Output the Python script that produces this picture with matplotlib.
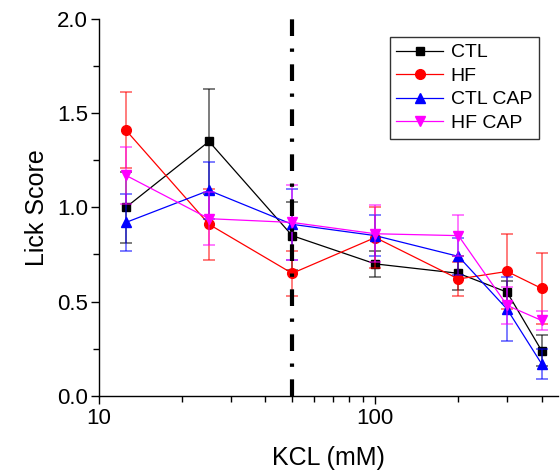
import matplotlib
matplotlib.use('Agg')
import matplotlib.pyplot as plt
from matplotlib.ticker import FixedLocator, MultipleLocator, FormatStrFormatter, NullFormatter

plt.rcParams['font.family'] = ['Liberation Sans', 'DejaVu Sans']

# KCl concentrations (mM)
kcl = [12.5, 25, 50, 100, 200, 300, 400]

ctl = [1.00, 1.35, 0.85, 0.70, 0.65, 0.55, 0.24]
ctl_err = [0.19, 0.28, 0.18, 0.07, 0.09, 0.06, 0.08]

hf = [1.41, 0.91, 0.65, 0.84, 0.62, 0.66, 0.57]
hf_err = [0.20, 0.19, 0.12, 0.16, 0.09, 0.20, 0.19]

ctl_cap = [0.92, 1.09, 0.91, 0.85, 0.74, 0.46, 0.17]
ctl_cap_err = [0.15, 0.15, 0.19, 0.11, 0.10, 0.17, 0.08]

hf_cap = [1.17, 0.94, 0.92, 0.86, 0.85, 0.48, 0.40]
hf_cap_err = [0.15, 0.14, 0.20, 0.15, 0.11, 0.10, 0.05]

series = [
    ('CTL', ctl, ctl_err, 'black', 's', 6),
    ('HF', hf, hf_err, 'red', 'o', 7),
    ('CTL CAP', ctl_cap, ctl_cap_err, 'blue', '^', 7.5),
    ('HF CAP', hf_cap, hf_cap_err, 'magenta', 'v', 7.5),
]

fig = plt.figure(figsize=(5.6, 4.74), dpi=100)
ax = fig.add_axes([0.177, 0.165, 0.82, 0.795])

for name, vals, errs, col, mk, ms in series:
    ax.errorbar(kcl, vals, yerr=errs, color=col, lw=0, elinewidth=1.2,
                capsize=4, capthick=1.2, alpha=0.6, fmt='none')
    ax.plot(kcl, vals, color=col, marker=mk, ms=ms, lw=0.9, label=name)

# threshold line at 50 mM (dash pattern is in units of line width)
ax.axvline(50, color='black', lw=3, dashes=(4, 3, 0.8, 3))

ax.set_xscale('log')
ax.set_xlim(10, 460)
ax.set_ylim(0, 2.0)

ax.xaxis.set_major_locator(FixedLocator([10, 100]))
ax.xaxis.set_minor_locator(FixedLocator([20, 30, 40, 50, 60, 70, 80, 90, 200, 300, 400]))
ax.xaxis.set_major_formatter(FormatStrFormatter('%d'))
ax.xaxis.set_minor_formatter(NullFormatter())
ax.yaxis.set_major_locator(MultipleLocator(0.5))
ax.yaxis.set_minor_locator(MultipleLocator(0.25))
ax.yaxis.set_major_formatter(FormatStrFormatter('%.1f'))

ax.tick_params(which='major', direction='out', length=6, width=1, labelsize=16)
ax.tick_params(which='minor', direction='out', length=4, width=1)
ax.tick_params(axis='x', which='major', pad=3)
ax.tick_params(axis='y', which='major', pad=2)

for side in ('top', 'right'):
    ax.spines[side].set_visible(False)
for side in ('left', 'bottom'):
    ax.spines[side].set_linewidth(1)

ax.set_xlabel('KCL (mM)', fontsize=18, labelpad=12)
ax.set_ylabel('Lick Score', fontsize=18, labelpad=6)

leg = ax.legend(loc='upper right', bbox_to_anchor=(0.958, 0.952), fontsize=14,
                frameon=True, fancybox=False, edgecolor='black',
                handlelength=2.4, handletextpad=0.4, labelspacing=0.3,
                borderpad=0.35, borderaxespad=0)
leg.get_frame().set_linewidth(1)

fig.savefig('out.png', dpi=100)
